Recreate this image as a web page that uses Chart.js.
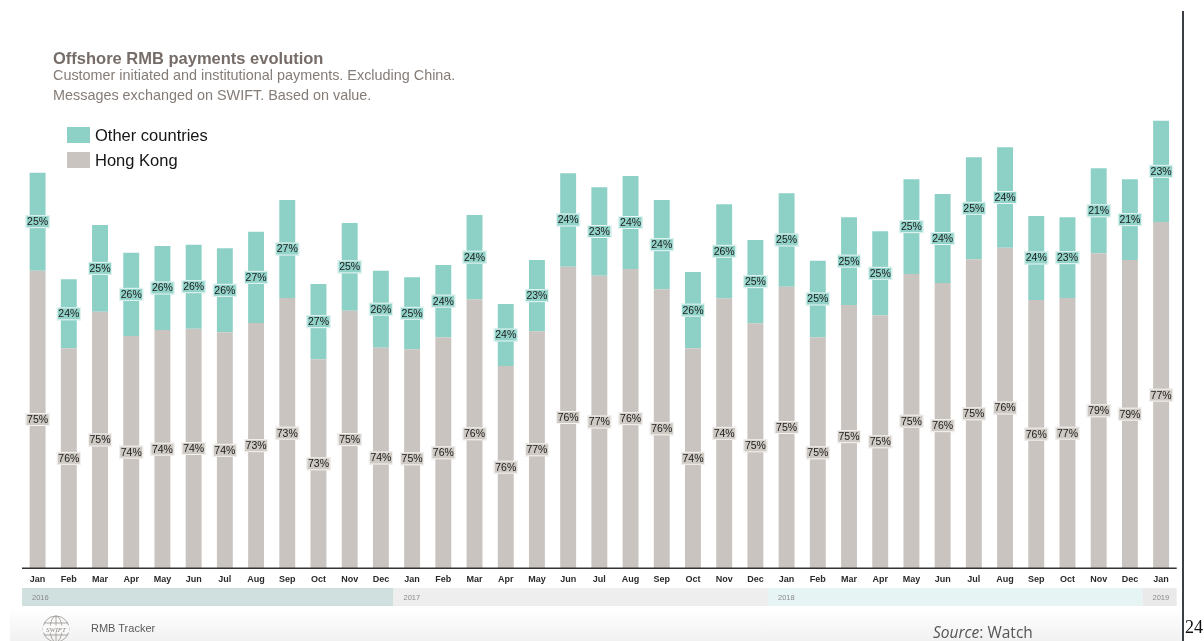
<!DOCTYPE html>
<html>
<head>
<meta charset="utf-8">
<script src="https://cdn.jsdelivr.net/npm/chart.js@4"></script>
<style>
  html, body { margin:0; padding:0; background:#fff; }
  body { width:1204px; height:641px; position:relative; overflow:hidden; font-family:"Liberation Sans", Arial, sans-serif; }
  #wrap { position:absolute; left:0; top:0; width:1204px; height:641px; }
  .abs { position:absolute; white-space:nowrap; }
  #title { left:53px; top:49px; font-size:16.5px; font-weight:bold; color:#766d68; }
  .sub { left:53px; font-size:14.4px; color:#847c77; }
  .lg-sw { position:absolute; width:23px; height:16px; }
  .lg-tx { font-size:16.5px; color:#151515; }
  #footer { position:absolute; left:10px; top:609px; width:1172px; height:32px; background:linear-gradient(to bottom, #ffffff 0%, #f1f1f1 100%); }
  #vline { position:absolute; left:1182px; top:11px; width:2px; height:630px; background:#3b3e43; }
</style>
</head>
<body>
<div id="footer"></div>
<div id="wrap"><canvas id="c" width="1204" height="641"></canvas></div>
<div id="title" class="abs">Offshore RMB payments evolution</div>
<div class="abs sub" style="top:67px;">Customer initiated and institutional payments. Excluding China.</div>
<div class="abs sub" style="top:87px;">Messages exchanged on SWIFT. Based on value.</div>
<div class="lg-sw" style="left:67px; top:127px; background:#8cd0c6;"></div>
<div class="abs lg-tx" style="left:95px; top:126px;">Other countries</div>
<div class="lg-sw" style="left:67px; top:152px; background:#c9c4bf;"></div>
<div class="abs lg-tx" style="left:95px; top:151px;">Hong Kong</div>

<svg class="abs" style="left:41px; top:614px;" width="30" height="30" viewBox="0 0 30 30">
  <g fill="none" stroke="#9a9590" stroke-width="0.8">
    <circle cx="15" cy="15" r="13"/>
    <ellipse cx="15" cy="15" rx="6" ry="13"/>
    <line x1="15" y1="2" x2="15" y2="28"/>
    <line x1="3" y1="9" x2="27" y2="9"/>
    <line x1="3" y1="21" x2="27" y2="21"/>
  </g>
  <rect x="2" y="11.5" width="26" height="7" fill="#fafafa"/>
  <text x="15" y="17.6" text-anchor="middle" font-family="Liberation Serif, serif" font-style="italic" font-size="7" fill="#8a857f">SWIFT</text>
</svg>
<div class="abs" style="left:91px; top:622px; font-size:11px; color:#5a5a5a;">RMB Tracker</div>
<div class="abs" style="left:933px; top:621px; font-family:'Open Sans', sans-serif; font-size:15.5px; color:#555;"><i>Source</i>: Watch</div>
<div class="abs" style="left:1185px; top:617px; font-family:'Liberation Serif', 'Times New Roman', serif; font-size:18px; color:#111;">24</div>
<div id="vline"></div>

<script>
// ---- data ----
const months = ["Jan","Feb","Mar","Apr","May","Jun","Jul","Aug","Sep","Oct","Nov","Dec",
                "Jan","Feb","Mar","Apr","May","Jun","Jul","Aug","Sep","Oct","Nov","Dec",
                "Jan","Feb","Mar","Apr","May","Jun","Jul","Aug","Sep","Oct","Nov","Dec","Jan"];
const years = ["2016","2017","2018","2019"];
const yearStartIndex = [0, 12, 24, 36];

// Bar heights (relative value index)
const hongKong = [297.6,220,256.6,232.3,238.3,239.6,236,245.3,270.3,209,257.6,220.6,
                  219,231,269,202.3,237,301.6,292.6,299.3,279,220,270,245,
                  281.6,231,263.3,253,294.3,285.3,309,320.6,268.3,270.3,315,308.3,346.3];
const otherCountries = [98,69,86.7,83.3,84,84,84,91.3,98,75.3,87.7,77,
                        72,72.3,84.3,62,71.3,93.4,88.4,93,89.3,76.3,94,83.3,
                        93.4,76.6,87.7,84,94.7,89,102,100.4,84,80.7,85,80.7,101.3];
// Share labels printed on the bars
const hongKongShare = [75,76,75,74,74,74,74,73,73,73,75,74,
                       75,76,76,76,77,76,77,76,76,74,74,75,
                       75,75,75,75,75,76,75,76,76,77,79,79,77];
const otherShare = [25,24,25,26,26,26,26,27,27,27,25,26,
                    25,24,24,24,23,24,23,24,24,26,26,25,
                    25,25,25,25,25,24,25,24,24,23,21,21,23];

const GRAY = "#c9c4bf", TEAL = "#8cd0c6";
const BASE_Y = 568.3;

const labelPlugin = {
  id: "barLabels",
  afterDatasetsDraw(chart) {
    const ctx = chart.ctx;
    const shares = [hongKongShare, otherShare];
    const fills = ["#cfc9c3", "#92d3c9"];
    ctx.save();
    ctx.font = "10.5px 'Liberation Sans', Arial, sans-serif";
    ctx.textAlign = "center";
    ctx.textBaseline = "middle";
    chart.data.datasets.forEach((ds, di) => {
      const meta = chart.getDatasetMeta(di);
      meta.data.forEach((bar, i) => {
        const cx = bar.x;
        const cy = (bar.y + bar.base) / 2;
        const txt = shares[di][i] + "%";
        const w = 24, h = 13;
        ctx.fillStyle = fills[di];
        ctx.fillRect(cx - w/2, cy - h/2, w, h);
        ctx.strokeStyle = "rgba(255,255,255,0.8)";
        ctx.lineWidth = 1;
        ctx.strokeRect(cx - w/2 + 0.5, cy - h/2 + 0.5, w - 1, h - 1);
        ctx.fillStyle = "#1a1a1a";
        ctx.fillText(txt, cx, cy + 0.5);
      });
    });
    ctx.restore();
  }
};

const bandPlugin = {
  id: "yearBands",
  afterDraw(chart) {
    const ctx = chart.ctx;
    const xs = chart.scales.x;
    const area = chart.chartArea;
    const step = xs.getPixelForValue(1) - xs.getPixelForValue(0);
    const colors = ["#cfe0de", "#eeeeee", "#e6f4f3", "#eaeaea"];
    const top = 588, bottom = 606;
    ctx.save();
    // axis line
    ctx.strokeStyle = "#333";
    ctx.lineWidth = 1.5;
    ctx.beginPath();
    ctx.moveTo(area.left, area.bottom);
    ctx.lineTo(area.right, area.bottom);
    ctx.stroke();
    for (let k = 0; k < years.length; k++) {
      let x0 = xs.getPixelForValue(yearStartIndex[k]) - step/2 - 3;
      let x1 = k + 1 < years.length ? xs.getPixelForValue(yearStartIndex[k+1]) - step/2 - 3 : area.right;
      if (k === 0) x0 = area.left;
      ctx.fillStyle = colors[k];
      ctx.fillRect(x0, top, x1 - x0, bottom - top);
      ctx.fillStyle = "#8a8a8a";
      ctx.font = "7.5px 'Liberation Sans', Arial, sans-serif";
      ctx.textAlign = "left";
      ctx.textBaseline = "middle";
      ctx.fillText(years[k], x0 + 10, (top + bottom) / 2 + 0.5);
    }
    ctx.restore();
  }
};

new Chart(document.getElementById("c"), {
  type: "bar",
  data: {
    labels: months,
    datasets: [
      { label: "Hong Kong", data: hongKong, backgroundColor: GRAY, borderWidth: 0, stack: "s" },
      { label: "Other countries", data: otherCountries, backgroundColor: TEAL, borderWidth: 0, stack: "s" }
    ]
  },
  options: {
    responsive: false,
    animation: false,
    devicePixelRatio: 1,
    layout: { padding: { left: 22, right: 27.3, top: 118.3, bottom: 0 } },
    plugins: { legend: { display: false }, tooltip: { enabled: false } },
    datasets: { bar: { categoryPercentage: 1.0, barPercentage: 0.51 } },
    scales: {
      x: {
        stacked: true,
        grid: { display: false, drawTicks: false },
        border: { display: false },
        ticks: {
          color: "#2a2a2a",
          font: { family: "'Liberation Sans Narrow', 'Liberation Sans', Arial, sans-serif", size: 9, weight: "bold" },
          padding: 6,
          maxRotation: 0,
          autoSkip: false
        },
        afterFit(scale) { scale.height = 641 - BASE_Y; }
      },
      y: {
        stacked: true,
        display: false,
        min: 0,
        max: 450
      }
    }
  },
  plugins: [labelPlugin, bandPlugin]
});
</script>
</body>
</html>
